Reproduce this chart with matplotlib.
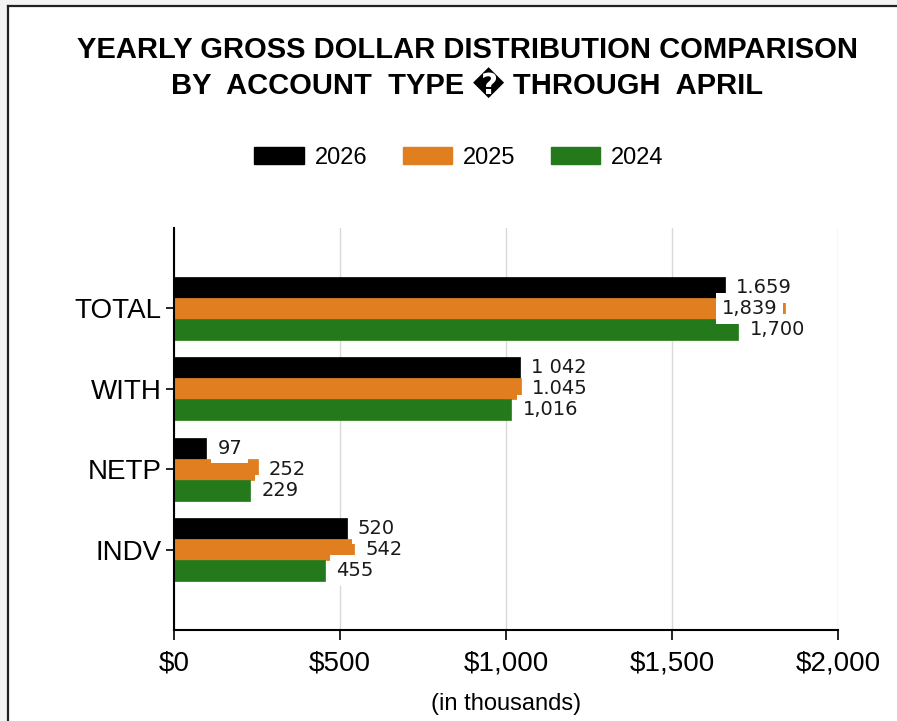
import matplotlib
matplotlib.use("Agg")
import matplotlib.pyplot as plt
from matplotlib.patches import Patch
from matplotlib.lines import Line2D
import numpy as np

categories = ["TOTAL", "WITH", "NETP", "INDV"]
series_names = ["2026", "2025", "2024"]
values_2026 = [1659, 1042, 97, 520]
values_2025 = [1839, 1045, 252, 542]
values_2024 = [1700, 1016, 229, 455]
label_2026 = ["1.659", "1 042", "97", "520"]
label_2025 = ["1,839", "1.045", "252", "542"]
label_2024 = ["1,700", "1,016", "229", "455"]
colors = ["#000000", "#E07E20", "#247A1A"]
xticks = [0, 500, 1000, 1500, 2000]
xtick_labels = ["$0", "$500", "$1,000", "$1,500", "$2,000"]

W, H = 897, 721
fig = plt.figure(figsize=(W / 100, H / 100), dpi=100)
fig.patch.set_facecolor("#f4f4f4")
fig.add_artist(plt.Rectangle((8 / W, 0), 1 - 8 / W, 1 - 6 / H, transform=fig.transFigure,
                             facecolor="white", edgecolor="none", zorder=-1))
fig.add_artist(Line2D([8 / W, 8 / W], [0, 1 - 6 / H], transform=fig.transFigure, color="#222222", lw=1.6))
fig.add_artist(Line2D([8 / W, 1], [1 - 6 / H, 1 - 6 / H], transform=fig.transFigure, color="#222222", lw=1.6))

ax = fig.add_axes([174 / W, 1 - 630 / H, (838 - 174) / W, (630 - 228) / H])
ax.set_facecolor("white")

y = np.arange(1, len(categories) + 1)
h = 0.262
all_vals = [values_2026, values_2025, values_2024]
all_labels = [label_2026, label_2025, label_2024]
for i, (vals, col, name) in enumerate(zip(all_vals, colors, series_names)):
    ax.barh(y + (i - 1) * h, vals, height=h, color=col, edgecolor=col, linewidth=0.5, zorder=2, label=name)

ax.set_xlim(0, 2000)
ax.set_ylim(5, 0)
ax.set_xticks(xticks)
ax.set_xticklabels(xtick_labels, fontsize=20, family="Liberation Sans")
ax.set_yticks(y)
ax.set_yticklabels(categories, fontsize=20, family="Liberation Sans")
ax.tick_params(axis="x", length=7, width=1.2, pad=8, colors="black")
ax.tick_params(axis="y", length=6, width=1.2, pad=3)
ax.grid(axis="x", color="#d9d9d9", lw=1, zorder=0)
ax.set_axisbelow(True)
for s in ["top", "right"]:
    ax.spines[s].set_visible(False)
ax.spines["left"].set_linewidth(1.5)
ax.spines["bottom"].set_linewidth(1.5)

# data labels
for i, (vals, labs) in enumerate(zip(all_vals, all_labels)):
    for j, (v, lab) in enumerate(zip(vals, labs)):
        yy = y[j] + (i - 1) * h
        if v + 230 > 2000:
            xy_off, ha = (-5, 0), "right"
        else:
            xy_off, ha = (8, 0), "left"
        ax.annotate(lab, xy=(v, yy), xytext=xy_off, textcoords="offset points",
                    ha=ha, va="center", fontsize=14, family="DejaVu Sans", color="#1a1a1a",
                    zorder=5 + i, annotation_clip=False,
                    bbox=dict(boxstyle="square,pad=0.3", facecolor="white", edgecolor="none"))

title_font = ["Liberation Sans", "DejaVu Sans"]
fig.text(467 / W, 1 - 50 / H, "YEARLY GROSS DOLLAR DISTRIBUTION COMPARISON",
         ha="center", va="center", fontsize=21, fontweight="bold", family=title_font)
fig.text(467 / W, 1 - 84 / H, "BY  ACCOUNT  TYPE \ufffd THROUGH  APRIL",
         ha="center", va="center", fontsize=21, fontweight="bold", family=title_font)

handles = [Patch(facecolor=c, edgecolor=c) for c in colors]
fig.legend(handles, series_names, loc="center", bbox_to_anchor=(459 / W, 1 - 158 / H),
           ncol=3, frameon=False, prop={"family": "Liberation Sans", "size": 17},
           handlelength=2.1, handleheight=0.75, columnspacing=1.5, handletextpad=0.45)

fig.text(506 / W, 1 - 704 / H, "(in thousands)", ha="center", va="center",
         fontsize=17, family="Liberation Sans")

fig.savefig("out.png", dpi=100, facecolor=fig.get_facecolor())
